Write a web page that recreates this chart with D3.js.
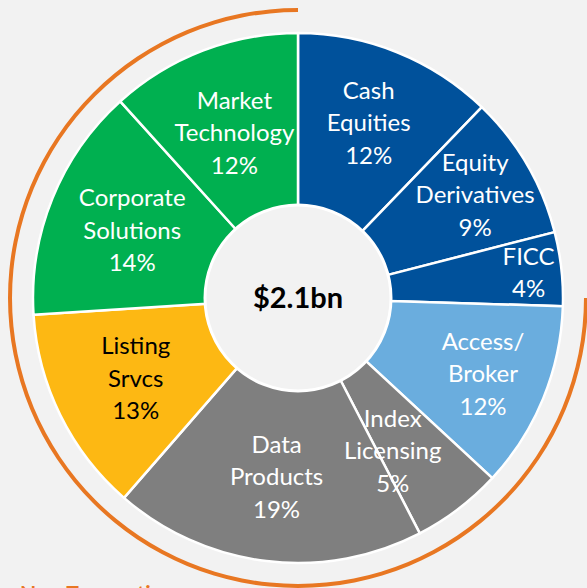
<!DOCTYPE html>
<html><head><meta charset="utf-8">
<script src="https://cdn.jsdelivr.net/npm/d3@7"></script>
<style>html,body{margin:0;padding:0;background:#f2f2f2;overflow:hidden}</style>
</head><body>
<svg id="c" width="587" height="588"></svg>
<script>
const categories = ["Cash Equities","Equity Derivatives","FICC","Access/Broker","Index Licensing","Data Products","Listing Srvcs","Corporate Solutions","Market Technology"];
const labelLines = [["Cash","Equities"],["Equity","Derivatives"],["FICC"],["Access/","Broker"],["Index","Licensing"],["Data","Products"],["Listing","Srvcs"],["Corporate","Solutions"],["Market","Technology"]];
const shares = [12.2, 8.8, 4.5, 11.4, 5.5, 19.0, 12.6, 14.3, 11.7];
const pctLabels = ["12%","9%","4%","12%","5%","19%","13%","14%","12%"];
const colors = ["#00519b","#00519b","#00519b","#6aadde","#7f7f7f","#7f7f7f","#fdb813","#00b050","#00b050"];
const textColors = ["#fff","#fff","#fff","#fff","#fff","#fff","#000","#fff","#fff"];
const centerText = "$2.1bn";
const groupLabel = "Non-Transaction";

// layout (not data): label radius and angular nudge
const labelLayout = [[189,0],[205,0],[232,0],[200,0],[180,5.5],[180,0],[181,0],[179,0],[177,0]];

const cx = 298, cy = 298, R = 265, r0 = 92;
const svg = d3.select("#c");
const g = svg.append("g").attr("transform", `translate(${cx},${cy})`);

// orange bracket arc
const bracket = d3.arc().innerRadius(286).outerRadius(290)
  .startAngle(Math.PI/2).endAngle(2*Math.PI);
g.append("path").attr("d", bracket()).attr("fill", "#e87722");

const pie = d3.pie().sort(null).value(d => d)(shares);
const arc = d3.arc().innerRadius(r0).outerRadius(R);
g.selectAll("path.slice").data(pie).join("path")
  .attr("class","slice")
  .attr("d", arc)
  .attr("fill", (d,i) => colors[i])
  .attr("stroke", "#fff").attr("stroke-width", 2.5).attr("stroke-linejoin","round");

g.append("circle").attr("r", 93).attr("fill", "#f2f2f2").attr("stroke", "#fff").attr("stroke-width", 3);

g.append("text").text(centerText)
  .attr("text-anchor","middle").attr("y", 10)
  .attr("font-family","Lato, 'Open Sans', sans-serif").attr("font-weight","bold")
  .attr("font-size", 29).attr("fill","#000");

const lh = 32.5;
pie.forEach((d,i) => {
  const [lr, nudge] = labelLayout[i];
  const a = (d.startAngle + d.endAngle)/2 + nudge*Math.PI/180;
  const x = lr*Math.sin(a), y = -lr*Math.cos(a);
  const lines = labelLines[i].concat([pctLabels[i]]);
  const t = g.append("text").attr("text-anchor","middle")
    .attr("font-family","Lato, 'Open Sans', sans-serif").attr("font-size", 24)
    .attr("fill", textColors[i]);
  const y0 = y - (lines.length-1)*lh/2;
  lines.forEach((s,k) => {
    t.append("tspan").attr("x", x).attr("y", y0 + k*lh).attr("dy","0.35em").text(s);
  });
});

svg.append("text").text(groupLabel).attr("x", 20).attr("y", 601)
  .attr("font-family","Lato, 'Open Sans', sans-serif").attr("font-weight","bold")
  .attr("font-size", 21).attr("fill","#e87722");
</script>
</body></html>
